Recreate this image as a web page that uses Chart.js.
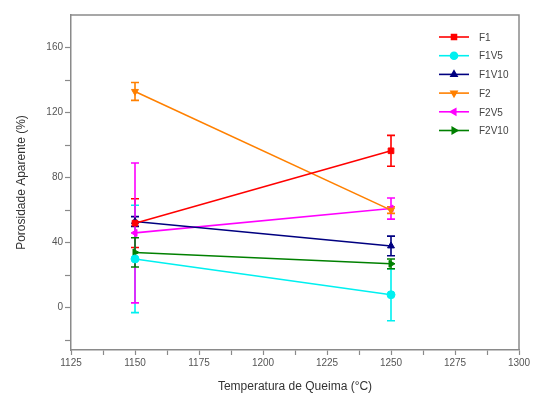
<!DOCTYPE html>
<html>
<head>
<meta charset="utf-8">
<script src="https://cdn.jsdelivr.net/npm/chart.js@4.4.1/dist/chart.umd.min.js"></script>
<style>
  html, body { margin: 0; padding: 0; background: #fff; }
  #wrap { width: 534px; height: 398px; position: relative; }
</style>
</head>
<body>
<div id="wrap"><canvas id="c" width="534" height="398"></canvas></div>
<script>
// ---- data ----
const temperatures = [1150, 1250];
const seriesNames = ['F1', 'F1V5', 'F1V10', 'F2', 'F2V5', 'F2V10'];
const f1 = [52, 96.5];
const f1Err = [15, 9.5];
const f1v5 = [30, 8];
const f1v5Err = [33, 16];
const f1v10 = [53, 38];
const f1v10Err = [3, 6];
const f2 = [133, 60];
const f2Err = [5.5, 2];
const f2v5 = [46, 61];
const f2v5Err = [43, 6.5];
const f2v10 = [34, 27];
const f2v10Err = [9, 3];
const yTickValues = [-20, 0, 20, 40, 60, 80, 100, 120, 140, 160];
const yLabelValues = [0, 40, 80, 120, 160];
const xTickValues = [1125, 1137.5, 1150, 1162.5, 1175, 1187.5, 1200, 1212.5, 1225, 1237.5, 1250, 1262.5, 1275, 1287.5, 1300];
const xLabelValues = [1125, 1150, 1175, 1200, 1225, 1250, 1275, 1300];

const seriesValues = [f1, f1v5, f1v10, f2, f2v5, f2v10];
const seriesErrors = [f1Err, f1v5Err, f1v10Err, f2Err, f2v5Err, f2v10Err];
const colors = ['#ff0000', '#00f0f0', '#000080', '#ff8000', '#ff00ff', '#008000'];
const styles = ['rect', 'circle', 'triangle', 'triangle', 'triangle', 'triangle'];
const rotations = [0, 0, 0, 180, -90, 90];

const datasets = seriesNames.map((name, i) => ({
  label: name,
  data: temperatures.map((t, j) => ({ x: t, y: seriesValues[i][j] })),
  errors: seriesErrors[i],
  borderColor: colors[i],
  backgroundColor: colors[i],
  borderWidth: 1.6,
  pointStyle: styles[i],
  pointRotation: rotations[i],
  pointRadius: 4,
  pointBorderWidth: 1,
  tension: 0
}));

const axisColor = '#8a8a8a';
const fontFam = '"Liberation Sans", Arial, sans-serif';

const errorBars = {
  id: 'errorBars',
  beforeDatasetsDraw(chart) {
    const ctx = chart.ctx;
    const xs = chart.scales.x, ys = chart.scales.y;
    ctx.save();
    chart.data.datasets.forEach((ds) => {
      ds.data.forEach((p, j) => {
        const e = ds.errors[j];
        const px = xs.getPixelForValue(p.x);
        const top = ys.getPixelForValue(p.y + e);
        const bot = ys.getPixelForValue(p.y - e);
        ctx.strokeStyle = ds.borderColor;
        ctx.lineWidth = 1.6;
        ctx.beginPath();
        ctx.moveTo(px, top); ctx.lineTo(px, bot);
        ctx.moveTo(px - 4, top); ctx.lineTo(px + 4, top);
        ctx.moveTo(px - 4, bot); ctx.lineTo(px + 4, bot);
        ctx.stroke();
      });
    });
    ctx.restore();
  }
};

const frameAndLegend = {
  id: 'frameAndLegend',
  afterDraw(chart) {
    const ctx = chart.ctx;
    const a = chart.chartArea;
    ctx.save();
    ctx.strokeStyle = axisColor;
    ctx.lineWidth = 1.5;
    ctx.beginPath();
    ctx.moveTo(a.left, a.top);
    ctx.lineTo(a.right, a.top);
    ctx.lineTo(a.right, a.bottom);
    ctx.stroke();
    // legend
    const x0 = 439, x1 = 469, tx = 479, y0 = 37, dy = 18.7;
    ctx.font = '10px ' + fontFam;
    ctx.textBaseline = 'middle';
    chart.data.datasets.forEach((ds, i) => {
      const y = y0 + i * dy;
      ctx.strokeStyle = ds.borderColor;
      ctx.lineWidth = 1.6;
      ctx.beginPath(); ctx.moveTo(x0, y); ctx.lineTo(x1, y); ctx.stroke();
      ctx.fillStyle = ds.backgroundColor;
      Chart.helpers.drawPoint(ctx, {
        pointStyle: ds.pointStyle, rotation: ds.pointRotation, radius: 3.5, borderWidth: 1
      }, (x0 + x1) / 2, y);
      ctx.fillStyle = '#444';
      ctx.fillText(ds.label, tx, y + 1);
    });
    ctx.restore();
  }
};

new Chart(document.getElementById('c'), {
  type: 'line',
  data: { datasets },
  options: {
    responsive: false,
    animation: false,
    layout: { padding: { top: 15, right: 15, left: 0, bottom: 0 } },
    plugins: { legend: { display: false }, tooltip: { enabled: false } },
    scales: {
      x: {
        type: 'linear',
        min: 1125, max: 1300,
        afterBuildTicks: (s) => { s.ticks = xTickValues.map(v => ({ value: v })); },
        afterFit: (s) => { s.height = 48; },
        grid: { display: true, drawOnChartArea: false, drawTicks: true, tickLength: 5, tickColor: axisColor, tickWidth: 1.2 },
        border: { display: true, color: axisColor, width: 1.5 },
        ticks: {
          autoSkip: false, maxRotation: 0, padding: 2,
          color: '#555', font: { size: 10, family: fontFam },
          callback: (v) => xLabelValues.includes(v) ? String(v) : ''
        },
        title: {
          display: true, text: 'Temperatura de Queima (°C)', color: '#333',
          font: { size: 12, family: fontFam }, padding: { top: 4 }
        }
      },
      y: {
        type: 'linear',
        min: -26, max: 180,
        afterBuildTicks: (s) => { s.ticks = yTickValues.map(v => ({ value: v })); },
        afterFit: (s) => { s.width = 71; },
        grid: { display: true, drawOnChartArea: false, drawTicks: true, tickLength: 6, tickColor: axisColor, tickWidth: 1.2 },
        border: { display: true, color: axisColor, width: 1.5 },
        ticks: {
          autoSkip: false, padding: 2,
          color: '#555', font: { size: 10, family: fontFam },
          callback: (v) => yLabelValues.includes(v) ? String(v) : ''
        },
        title: {
          display: true, text: 'Porosidade Aparente (%)', color: '#333',
          font: { size: 12, family: fontFam }, padding: { top: 14, bottom: 4 }
        }
      }
    }
  },
  plugins: [errorBars, frameAndLegend]
});
</script>
</body>
</html>
